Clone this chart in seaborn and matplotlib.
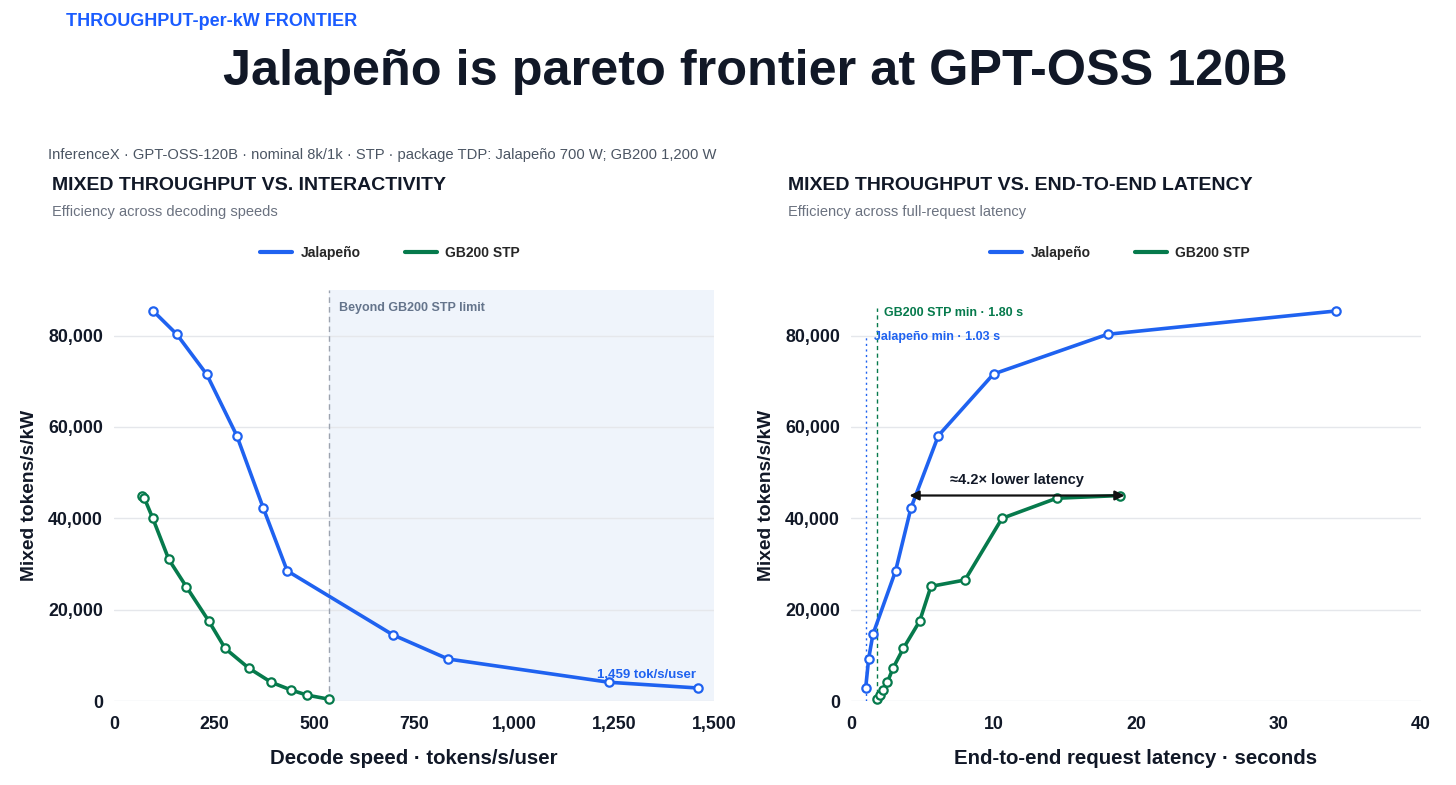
import numpy as np
import pandas as pd
import seaborn as sns
import matplotlib.pyplot as plt
from matplotlib.lines import Line2D

sns.set_theme(style="white")
plt.rcParams['font.family'] = ['Liberation Sans', 'DejaVu Sans']

# ---- data ----
left_jal_speed = [98, 157, 232, 307, 373, 433, 697, 835, 1238, 1459]
left_jal_tput = [85400, 80300, 71500, 58100, 42300, 28500, 14500, 9200, 4100, 2850]

left_gb_speed = [69, 76, 97, 137, 181, 237, 278, 337, 393, 443, 482, 537]
left_gb_tput = [45000, 44400, 40000, 31000, 25000, 17500, 11500, 7200, 4100, 2400, 1300, 400]

right_jal_latency = [1.03, 1.24, 1.54, 3.13, 4.21, 6.13, 10.0, 18.0, 34.0]
right_jal_tput = [2850, 9300, 14600, 28500, 42300, 58100, 71600, 80300, 85400]

right_gb_latency = [1.80, 2.04, 2.25, 2.55, 2.95, 3.67, 4.82, 5.61, 8.0, 10.6, 14.43, 18.9]
right_gb_tput = [400, 1300, 2400, 4100, 7200, 11500, 17500, 25100, 26500, 40000, 44400, 45000]

y_ticks = [0, 20000, 40000, 60000, 80000]
left_x_ticks = [0, 250, 500, 750, 1000, 1250, 1500]
right_x_ticks = [0, 10, 20, 30, 40]

gb_speed_limit = 537
jal_min_latency = 1.03
gb_min_latency = 1.80

BLUE = '#1f62f0'
GREEN = '#067a4c'
DARK = '#111827'
GRAY = '#64748b'

W, H = 1456, 785
fig = plt.figure(figsize=(W / 100, H / 100), dpi=100)


def px_axes(x0, x1, y_top, y_bot):
    return fig.add_axes([x0 / W, 1 - y_bot / H, (x1 - x0) / W, (y_bot - y_top) / H])


def draw_series(ax, x, y, color):
    sns.lineplot(x=x, y=y, ax=ax, color=color, linewidth=2.6, marker='o',
                 markersize=6, markerfacecolor='white', markeredgecolor=color,
                 markeredgewidth=1.6, clip_on=False, zorder=3)


def style_axes(ax, xticks, xlim):
    ax.set_xlim(*xlim)
    ax.set_ylim(0, 90000)
    ax.set_yticks(y_ticks)
    ax.set_xticks(xticks)
    ax.set_yticklabels([f"{v:,}" for v in y_ticks])
    ax.set_xticklabels([f"{v:,}" for v in xticks])
    ax.yaxis.grid(True, color='#e5e7eb', linewidth=1)
    ax.xaxis.grid(False)
    for s in ax.spines.values():
        s.set_visible(False)
    ax.tick_params(axis='y', length=0, pad=8, labelsize=12.8, labelcolor=DARK)
    ax.tick_params(axis='x', length=0, pad=11, labelsize=12.8, labelcolor=DARK)
    for lab in ax.get_xticklabels() + ax.get_yticklabels():
        lab.set_fontweight('bold')
    ax.set_ylabel('Mixed tokens/s/kW', fontsize=13.8, fontweight='bold', color=DARK, labelpad=7)


# ---- left panel ----
axL = px_axes(114, 714, 290, 701)
axL.axvspan(gb_speed_limit, 1500, color='#eff4fb', zorder=0, linewidth=0)
axL.axvline(gb_speed_limit, color='#9ca3af', linestyle=(0, (4, 3)), linewidth=1, zorder=1)
draw_series(axL, left_jal_speed, left_jal_tput, BLUE)
draw_series(axL, left_gb_speed, left_gb_tput, GREEN)
style_axes(axL, left_x_ticks, (0, 1500))
axL.set_xlabel('Decode speed · tokens/s/user', fontsize=14.7, fontweight='bold', color=DARK, labelpad=11)
axL.text(gb_speed_limit + 25, 86000, 'Beyond GB200 STP limit', fontsize=9,
         fontweight='bold', color=GRAY, va='center')
axL.text(left_jal_speed[-1] - 5, 5600, f"{left_jal_speed[-1]:,} tok/s/user", fontsize=9.5,
         fontweight='bold', color=BLUE, ha='right', va='center')

# ---- right panel ----
axR = px_axes(851, 1421, 290, 701)
axR.plot([jal_min_latency, jal_min_latency], [0, 80000], color=BLUE, linestyle=(0, (1.5, 2.5)), linewidth=1, zorder=1)
axR.plot([gb_min_latency, gb_min_latency], [0, 86000], color=GREEN, linestyle=(0, (3, 2.5)), linewidth=1, zorder=1)
draw_series(axR, right_jal_latency, right_jal_tput, BLUE)
draw_series(axR, right_gb_latency, right_gb_tput, GREEN)
style_axes(axR, right_x_ticks, (0, 40))
axR.set_xlabel('End-to-end request latency · seconds', fontsize=14.7, fontweight='bold', color=DARK, labelpad=11)
axR.text(gb_min_latency + 0.55, 85000, f'GB200 STP min · {gb_min_latency:.2f} s', fontsize=9,
         fontweight='bold', color=GREEN, va='center')
axR.text(jal_min_latency + 0.6, 79800, f'Jalapeño min · {jal_min_latency:.2f} s', fontsize=9,
         fontweight='bold', color=BLUE, va='center')
axR.annotate('', xy=(4.1, 45000), xytext=(19.2, 45000),
             arrowprops=dict(arrowstyle='<|-|>', color='#111111', lw=1.6, mutation_scale=14,
                             shrinkA=0, shrinkB=0), zorder=5)
axR.text(11.65, 48400, '≈4.2× lower latency', fontsize=10.5, fontweight='bold', color=DARK,
         ha='center', va='center')

# ---- legends ----
handles = [Line2D([], [], color=BLUE, lw=3), Line2D([], [], color=GREEN, lw=3)]
labels = ['Jalapeño', 'GB200 STP']
for cx in (390, 1120):
    fig.legend(handles, labels, loc='center', bbox_to_anchor=(cx / W, 1 - 253 / H), ncol=2,
               frameon=False, handlelength=2.3, handletextpad=0.6, columnspacing=3.2,
               prop={'weight': 'bold', 'size': 10})

# ---- header text ----
fig.text(66 / W, 1 - 22 / H, 'THROUGHPUT-per-kW FRONTIER', fontsize=13, fontweight='bold',
         color='#1a5cff', va='center')
fig.text(755 / W, 1 - 72 / H, 'Jalapeño is pareto frontier at GPT-OSS 120B', fontsize=36.3,
         fontweight='bold', color=DARK, ha='center', va='center')
fig.text(48 / W, 1 - 155 / H,
         'InferenceX · GPT-OSS-120B · nominal 8k/1k · STP · package TDP: Jalapeño 700 W; GB200 1,200 W',
         fontsize=10.65, color='#4b5563', va='center')
fig.text(52 / W, 1 - 186 / H, 'MIXED THROUGHPUT VS. INTERACTIVITY', fontsize=14,
         fontweight='bold', color=DARK, va='center')
fig.text(52 / W, 1 - 212 / H, 'Efficiency across decoding speeds', fontsize=10.5,
         color='#6b7280', va='center')
fig.text(788 / W, 1 - 186 / H, 'MIXED THROUGHPUT VS. END-TO-END LATENCY', fontsize=14,
         fontweight='bold', color=DARK, va='center')
fig.text(788 / W, 1 - 212 / H, 'Efficiency across full-request latency', fontsize=10.5,
         color='#6b7280', va='center')

fig.savefig('out.png', dpi=100, facecolor='white')
